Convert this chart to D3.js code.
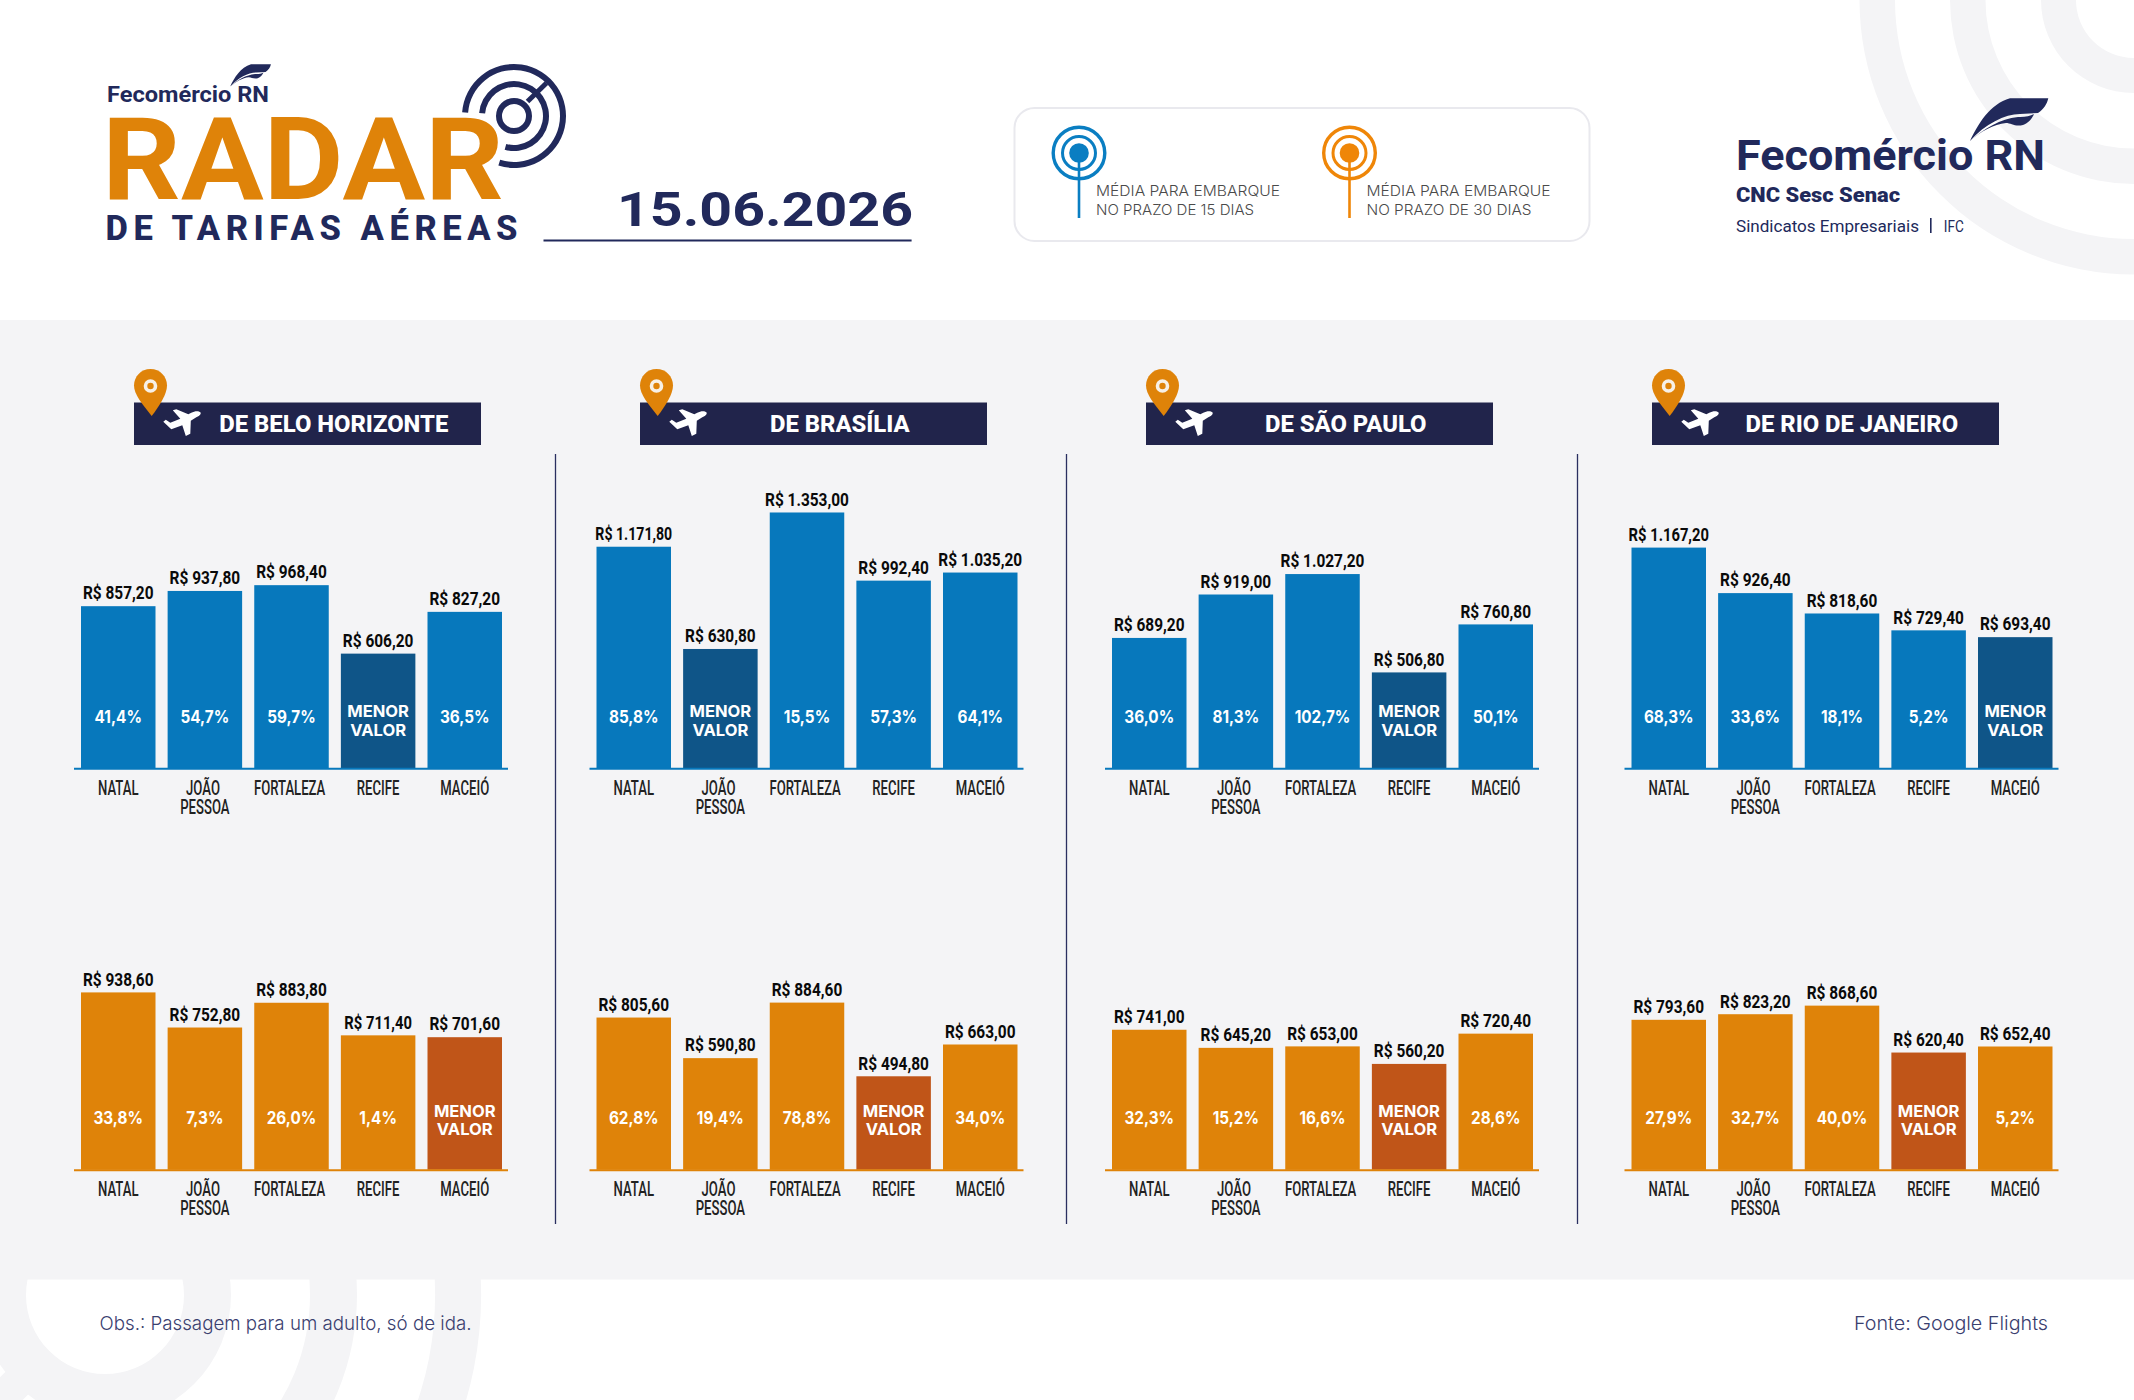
<!DOCTYPE html>
<html lang="pt-BR">
<head>
<meta charset="utf-8">
<title>Radar de Tarifas Aéreas</title>
<script src="https://cdn.jsdelivr.net/npm/d3@7"></script>
<style>
  html, body { margin: 0; padding: 0; background: #fff; }
  svg { display: block; }
  text { font-family: Roboto, sans-serif; }
  .fare { font-weight: 700; font-size: 18.6px; fill: #0a0a0a; text-anchor: middle; }
  .pct { font-family: Inter, sans-serif; font-weight: 700; font-size: 17.2px; fill: #fff; text-anchor: middle; }
  .low { font-family: Inter, sans-serif; font-weight: 700; font-size: 16.4px; fill: #fff; text-anchor: middle; }
  .cat { font-weight: 500; font-size: 19.6px; fill: #222; text-anchor: middle; }
  .title { font-weight: 800; font-size: 23.6px; fill: #fff; text-anchor: middle; }
  .thin { font-family: Inter, sans-serif; font-weight: 300; }
</style>
</head>
<body>
<div id="chart"></div>
<script>
// Cidades de destino e origens
const cities = ["NATAL", "JOÃO PESSOA", "FORTALEZA", "RECIFE", "MACEIÓ"];
const origins = ["DE BELO HORIZONTE", "DE BRASÍLIA", "DE SÃO PAULO", "DE RIO DE JANEIRO"];

// Média para embarque em 15 dias (R$), uma linha por origem
const fares15 = [
  [857.2, 937.8, 968.4, 606.2, 827.2],
  [1171.8, 630.8, 1353.0, 992.4, 1035.2],
  [689.2, 919.0, 1027.2, 506.8, 760.8],
  [1167.2, 926.4, 818.6, 729.4, 693.4]
];
// Diferença para o menor valor (%), null = menor valor
const pct15 = [
  [41.4, 54.7, 59.7, null, 36.5],
  [85.8, null, 15.5, 57.3, 64.1],
  [36.0, 81.3, 102.7, null, 50.1],
  [68.3, 33.6, 18.1, 5.2, null]
];

// Média para embarque em 30 dias (R$)
const fares30 = [
  [938.6, 752.8, 883.8, 711.4, 701.6],
  [805.6, 590.8, 884.6, 494.8, 663.0],
  [741.0, 645.2, 653.0, 560.2, 720.4],
  [793.6, 823.2, 868.6, 620.4, 652.4]
];
const pct30 = [
  [33.8, 7.3, 26.0, 1.4, null],
  [62.8, 19.4, 78.8, null, 34.0],
  [32.3, 15.2, 16.6, null, 28.6],
  [27.9, 32.7, 40.0, null, 5.2]
];

// Layout
const width = 2134, height = 1400;
const navy = "#21295b", band = "#f4f4f6";
const blue = "#0778bc", blueDark = "#0f5588", orange = "#df8309", orangeDark = "#c05518";
const panelLeft = [81, 596.5, 1112, 1631.5];   // primeira barra de cada painel
const bannerLeft = [134, 640, 1146, 1652];
const dividers = [555.5, 1066.5, 1577.5];
const panelWidth = 421, pxPerReal = 0.189, maxFare = 1400;

const svg = d3.select("#chart").append("svg")
  .attr("width", width)
  .attr("height", height);

// Formatos pt-BR
const br = d3.formatLocale({ decimal: ",", thousands: ".", grouping: [3], currency: ["R$ ", ""] });
const fmtFare = br.format("$,.2f");
const fmtPct = br.format(",.1f");

// Estica um texto na horizontal ate a largura desejada
function fit(sel, w, adjust) {
  sel.attr("textLength", w).attr("lengthAdjust", adjust || "spacingAndGlyphs");
  return sel;
}

// O "1" da fonte original e estreito, entao valores com varios "1" ficam mais curtos
function fareScale(text) {
  const ones = text.split("1").length - 1;
  return 0.83 - 0.035 * Math.max(0, ones - 1);
}

// Aneis de fundo
const ring = d3.arc().startAngle(0).endAngle(2 * Math.PI);
function rings(cx, cy, radii) {
  svg.append("g")
    .attr("transform", `translate(${cx},${cy})`)
    .selectAll("path")
    .data(radii)
    .enter()
    .append("path")
    .attr("fill", band)
    .attr("d", d => ring({ innerRadius: d[0], outerRadius: d[1] }));
}
rings(2134, 0, [[58, 93], [148.5, 184], [239, 274.5]]);
rings(105, 1295, [[79, 126], [205, 252], [330, 376]]);
svg.append("line")
  .attr("x1", 34).attr("y1", 1366)
  .attr("x2", -54).attr("y2", 1454)
  .attr("stroke", band).attr("stroke-width", 32);

// Faixa cinza central
svg.append("rect")
  .attr("x", 0).attr("y", 320)
  .attr("width", width).attr("height", 959.5)
  .attr("fill", band);

// Pena do logo (duas partes)
const featherTop = "M10,51 C18,34 30,14 50,8.3 L88.3,8.3 C87,14 84,19 78,23 L60,24 C45,24 25,34 10,51 Z";
const featherLow = "M10,51 C25,38 40,29 58,27 C64,27.5 70,26 74,24 C72,29 68,33 63,35 C55,37 51,33 46,33 C34,34 20,42 10,51 Z";
function feather(tx, ty, s) {
  const g = svg.append("g").attr("transform", `translate(${tx},${ty}) scale(${s})`);
  g.append("path").attr("d", featherTop).attr("fill", navy);
  g.append("path").attr("d", featherLow).attr("fill", navy);
}

// ---------- Cabecalho esquerdo ----------
fit(svg.append("text").attr("x", 107).attr("y", 101.7)
  .attr("font-size", 22.5).attr("font-weight", 700).attr("fill", navy)
  .text("Fecomércio RN"), 162);
feather(225, 60, 0.52);

// Icone do radar
const radar = svg.append("g").attr("transform", "translate(514,116)");
const radarArc = d3.arc();
const deg = Math.PI / 180;
[
  { innerRadius: 46, outerRadius: 52, startAngle: -86 * deg, endAngle: 197.5 * deg },
  { innerRadius: 29, outerRadius: 35, startAngle: -85 * deg, endAngle: 195.5 * deg },
  { innerRadius: 12, outerRadius: 18, startAngle: 0, endAngle: 360 * deg }
].forEach(a => radar.append("path").attr("d", radarArc(a)).attr("fill", navy));
radar.append("line")
  .attr("x1", 13.5).attr("y1", -14.5)
  .attr("x2", 32.5).attr("y2", -33)
  .attr("stroke", navy).attr("stroke-width", 5);

fit(svg.append("text").attr("x", 102).attr("y", 199)
  .attr("font-size", 115).attr("font-weight", 700).attr("fill", orange)
  .text("RADAR"), 402);
fit(svg.append("text").attr("x", 105.5).attr("y", 239.5)
  .attr("font-size", 34.5).attr("font-weight", 800).attr("fill", navy)
  .text("DE TARIFAS AÉREAS"), 412, "spacing");
fit(svg.append("text").attr("x", 617).attr("y", 226)
  .attr("font-family", "Inter, sans-serif")
  .attr("font-size", 48).attr("font-weight", 700).attr("fill", navy)
  .text("15.06.2026"), 296);
svg.append("line")
  .attr("x1", 543.5).attr("y1", 240.5)
  .attr("x2", 911.6).attr("y2", 240.5)
  .attr("stroke", navy).attr("stroke-width", 2);

// ---------- Legenda ----------
svg.append("rect")
  .attr("x", 1014.5).attr("y", 108)
  .attr("width", 575).attr("height", 133)
  .attr("rx", 20)
  .attr("fill", "#fff").attr("stroke", "#e9e9ee").attr("stroke-width", 2);

const legendItems = [
  { x: 1079, color: "#0a7ec2", lines: ["MÉDIA PARA EMBARQUE", "NO PRAZO DE 15 DIAS"], w: [184, 158] },
  { x: 1349.5, color: "#ef8608", lines: ["MÉDIA PARA EMBARQUE", "NO PRAZO DE 30 DIAS"], w: [184, 165] }
];
legendItems.forEach(item => {
  const g = svg.append("g").attr("transform", `translate(${item.x},153)`);
  g.append("circle").attr("r", 25.8).attr("fill", "none").attr("stroke", item.color).attr("stroke-width", 3.4);
  g.append("circle").attr("r", 16.5).attr("fill", "none").attr("stroke", item.color).attr("stroke-width", 3);
  g.append("circle").attr("r", 9.8).attr("fill", item.color);
  g.append("line").attr("y1", 0).attr("y2", 65).attr("stroke", item.color).attr("stroke-width", 2.6);
  item.lines.forEach((t, i) => {
    fit(svg.append("text").attr("class", "thin")
      .attr("x", item.x + 17).attr("y", 196 + i * 19)
      .attr("font-size", 14).attr("fill", "#4a4a4a")
      .text(t), item.w[i]);
  });
});

// ---------- Logo direito ----------
fit(svg.append("text").attr("x", 1736).attr("y", 170)
  .attr("font-size", 43).attr("font-weight", 700).attr("fill", navy)
  .text("Fecomércio RN"), 309);
feather(1960, 90, 1);
fit(svg.append("text").attr("x", 1736).attr("y", 201.7)
  .attr("font-size", 20).attr("font-weight", 900).attr("fill", navy)
  .text("CNC Sesc Senac"), 164);
fit(svg.append("text").attr("x", 1736).attr("y", 231.5)
  .attr("font-size", 17).attr("fill", navy)
  .text("Sindicatos Empresariais"), 183);
svg.append("line")
  .attr("x1", 1930.8).attr("y1", 218)
  .attr("x2", 1930.8).attr("y2", 233)
  .attr("stroke", navy).attr("stroke-width", 1.6);
fit(svg.append("text").attr("x", 1943.8).attr("y", 231.5)
  .attr("font-size", 17).attr("fill", navy)
  .text("IFC"), 20);

// ---------- Graficos ----------
const planePath = "M37.3,3.3 C35,1 31,2 28,3.5 L25,5 L13,0 L9.5,1 L17,9.5 L7,13.5 L2.5,10.5 L0,12.5 L8,20 L19,16 L22.5,26.7 L27,24.5 L27.5,11.5 L33,8 C36,7 38,5 37.3,3.3 Z";
const pinPath = "M150.5,369 C141,369 134,376.5 134,385.5 C134,394 142,404 151.7,416 C160,405 167,394 167,385.5 C167,376.5 160,369 150.5,369 Z";

function drawBars(left, baseline, fares, pcts, color, colorLow, pctY, lowY) {
  const g = svg.append("g");
  const data = cities.map((city, i) => ({ city, fare: fares[i], pct: pcts[i] }));

  const x = d3.scaleBand()
    .domain(cities)
    .range([left, left + panelWidth])
    .paddingInner(0.14);
  const y = d3.scaleLinear()
    .domain([0, maxFare])
    .range([baseline, baseline - maxFare * pxPerReal]);

  g.selectAll("rect")
    .data(data)
    .enter()
    .append("rect")
    .attr("x", d => x(d.city))
    .attr("y", d => y(d.fare))
    .attr("width", x.bandwidth())
    .attr("height", d => baseline - y(d.fare))
    .attr("fill", d => d.pct === null ? colorLow : color);

  // Valor acima da barra
  g.selectAll(".fare")
    .data(data)
    .enter()
    .append("text")
    .attr("class", "fare")
    .attr("transform", d => `translate(${x(d.city) + x.bandwidth() / 2},${y(d.fare) - 6.7}) scale(${fareScale(fmtFare(d.fare))},1)`)
    .text(d => fmtFare(d.fare));

  // Percentual dentro da barra
  g.selectAll(".pct")
    .data(data.filter(d => d.pct !== null))
    .enter()
    .append("text")
    .attr("class", "pct")
    .attr("transform", d => `translate(${x(d.city) + x.bandwidth() / 2},${baseline - pctY}) scale(0.89,1)`)
    .text(d => fmtPct(d.pct) + "%");

  // Rotulo do menor valor
  const low = data.find(d => d.pct === null);
  ["MENOR", "VALOR"].forEach((t, i) => {
    g.append("text")
      .attr("class", "low")
      .attr("transform", `translate(${x(low.city) + x.bandwidth() / 2},${baseline - lowY[i]}) scale(1.01,1)`)
      .text(t);
  });

  // Eixo de categorias
  const axis = g.append("g")
    .attr("transform", `translate(0,${baseline})`)
    .call(d3.axisBottom(x).tickSize(0));
  axis.select(".domain").remove();
  axis.selectAll("text")
    .attr("class", "cat")
    .attr("y", null).attr("dy", null)
    .attr("transform", "scale(0.67,1)")
    .attr("fill", null)
    .style("font-family", "Roboto, sans-serif")
    .text(null)
    .each(function (d) {
      const nudge = { "JOÃO": -2.8, "FORTALEZA": -2.8 };
      d.split(" ").forEach((w, i) => {
        d3.select(this).append("tspan")
          .attr("x", nudge[w] || 0)
          .attr("y", 26.6 + i * 19)
          .text(w);
      });
    });

  // Linha de base
  g.append("line")
    .attr("x1", left - 7).attr("x2", left + panelWidth + 6)
    .attr("y1", baseline + 0.5).attr("y2", baseline + 0.5)
    .attr("stroke", color).attr("stroke-width", 2);
}

origins.forEach((name, i) => {
  // Faixa com o nome da origem
  const head = svg.append("g").attr("transform", `translate(${bannerLeft[i] - 134},0)`);
  head.append("rect")
    .attr("x", 134).attr("y", 402.5)
    .attr("width", 347).attr("height", 42.5)
    .attr("fill", "#21244b");
  head.append("text")
    .attr("class", "title")
    .attr("transform", "translate(333.8,431.7) scale(1.01,1)")
    .text(name);
  head.append("path").attr("d", planePath)
    .attr("transform", "translate(163.3,409.3)")
    .attr("fill", "#fff");
  head.append("path").attr("d", pinPath).attr("fill", orange);
  head.append("circle")
    .attr("cx", 150.5).attr("cy", 386).attr("r", 5)
    .attr("fill", orange)
    .attr("stroke", "#f7f0e6").attr("stroke-width", 3.6);

  drawBars(panelLeft[i], 768.2, fares15[i], pct15[i], blue, blueDark, 45, [51.5, 32.5]);
  drawBars(panelLeft[i], 1169.8, fares30[i], pct30[i], orange, orangeDark, 45.5, [52.5, 34.5]);
});

// Divisorias entre paineis
svg.selectAll(".divider")
  .data(dividers)
  .enter()
  .append("line")
  .attr("class", "divider")
  .attr("x1", d => d).attr("x2", d => d)
  .attr("y1", 454).attr("y2", 1224)
  .attr("stroke", "#2a2f60").attr("stroke-width", 1.3);

// ---------- Rodape ----------
fit(svg.append("text").attr("class", "thin").attr("x", 99.5).attr("y", 1329.5)
  .attr("font-size", 19).attr("fill", "#3a406f")
  .text("Obs.: Passagem para um adulto, só de ida."), 372);
fit(svg.append("text").attr("class", "thin").attr("x", 1854).attr("y", 1329.5)
  .attr("font-size", 19).attr("fill", "#3a406f")
  .text("Fonte: Google Flights"), 194);
</script>
</body>
</html>
